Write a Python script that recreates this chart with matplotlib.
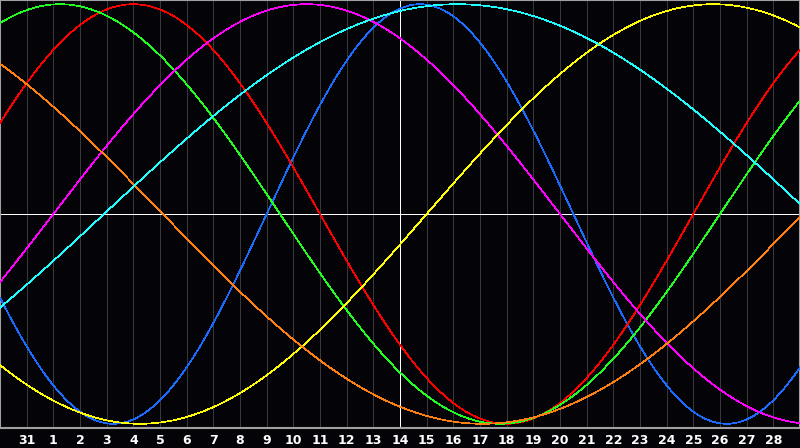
import numpy as np
import matplotlib
matplotlib.use("Agg")
import matplotlib.pyplot as plt

# day labels under the grid lines (Jan 31, then February)
day_labels = ["31"] + [str(d) for d in range(1, 29)]

# biorhythm cycles: period (days), day (from left edge) of upward zero crossing, colour
periods = [23, 28, 33, 38, 43, 48, 53]
zero_up = [10.0, -2.0, -6.0, 2.0, 16.0, -17.9, 3.9]
colors = ["#1a6cff", "#ff0000", "#20ff20", "#ff00ff", "#ffff00", "#ff8010", "#20ffff"]

n_days = 30
today = 15  # index of the white marker line

fig = plt.figure(figsize=(8, 4.48), dpi=100, facecolor="#040408")
ax = fig.add_axes([0, 20/448, 1, 428/448])
ax.set_facecolor("#040408")

px = 0.72  # one pixel in points

# grid
for i in range(1, n_days):
	ax.axvline(i, color="#38383c", lw=px, zorder=1, antialiased=False)
ax.axvline(today, color="white", lw=px, zorder=2, antialiased=False)
ax.axhline(0, color="white", lw=px, zorder=2, antialiased=False)

t = np.linspace(0, n_days, 1600)
for p, z, c in zip(periods, zero_up, colors):
	ax.plot(t, np.sin(2*np.pi*(t - z)/p), color=c, lw=0.5, zorder=3, antialiased=False)

ax.set_xlim(0, n_days)
ax.set_ylim(-1.02, 1.02)
for s in ax.spines.values():
	s.set_color("#a0a0a0")
	s.set_linewidth(1.5)
ax.set_xticks(range(1, n_days))
ax.set_xticklabels(day_labels, color="white", fontsize=9, fontweight="bold", family="DejaVu Sans")
ax.tick_params(axis="x", length=0, pad=4)
ax.set_yticks([])

fig.savefig("out.png", dpi=100, facecolor=fig.get_facecolor())
